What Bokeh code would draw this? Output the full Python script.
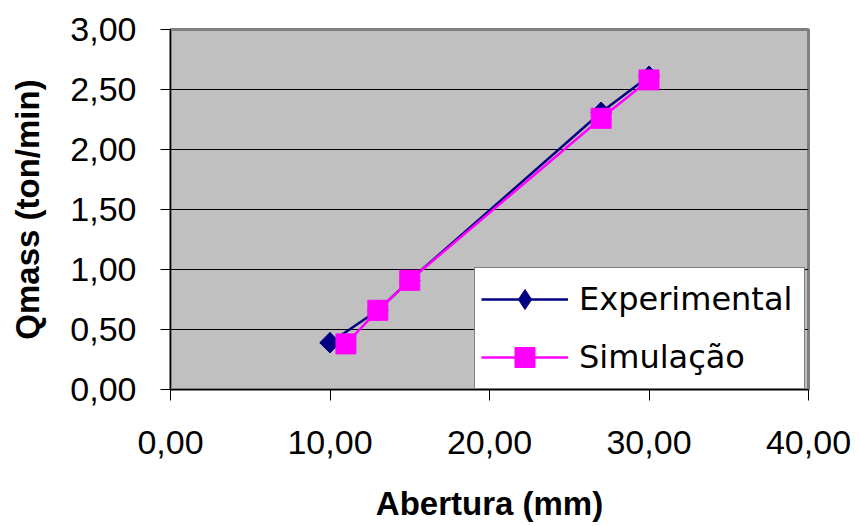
import numpy as np
from bokeh.plotting import figure
from bokeh.models import (Range1d, FixedTicker, CustomJSTickFormatter, Legend, LegendItem,
                          ColumnDataSource)
from bokeh.embed import file_html
from bokeh.resources import INLINE

# Data
exp_x = [10, 13, 15, 27, 30]
exp_y = [0.39, 0.66, 0.91, 2.31, 2.61]
sim_x = [11, 13, 15, 27, 30]
sim_y = [0.38, 0.66, 0.91, 2.26, 2.58]
x_ticks = [0, 10, 20, 30, 40]
y_ticks = [0, 0.5, 1.0, 1.5, 2.0, 2.5, 3.0]
x_title = "Abertura (mm)"
y_title = "Qmass (ton/min)"
series_names = ["Experimental", "Simulação"]

FONT = "Liberation Sans"

p = figure(width=859, height=526, output_backend="svg", toolbar_location=None,
           x_range=Range1d(0, 40), y_range=Range1d(0, 3),
           min_border_left=170, min_border_right=51, min_border_top=29, min_border_bottom=137)

p.background_fill_color = "#C0C0C0"
p.border_fill_color = "white"
p.outline_line_color = "#808080"
p.outline_line_width = 3

fmt = CustomJSTickFormatter(code="return tick.toFixed(2).replace('.', ',');")

p.xaxis.ticker = FixedTicker(ticks=x_ticks)
p.yaxis.ticker = FixedTicker(ticks=y_ticks)
for ax in (p.xaxis, p.yaxis):
    ax.formatter = fmt
    ax.minor_tick_line_color = None
    ax.major_tick_in = 0
    ax.axis_line_color = "black"
    ax.axis_line_width = 1
    ax.major_tick_line_color = "black"
    ax.major_label_text_font = FONT
    ax.major_label_text_font_size = "34px"
    ax.major_label_text_color = "black"
    ax.axis_label_text_font = FONT
    ax.axis_label_text_font_size = "33px"
    ax.axis_label_text_font_style = "bold"
    ax.axis_label_text_color = "black"

p.xaxis.major_tick_out = 11
p.xaxis.major_label_standoff = 30
p.xaxis.axis_label = x_title
p.xaxis.axis_label_standoff = 28

p.yaxis.major_tick_out = 10
p.yaxis.major_label_standoff = 24
p.yaxis.axis_label = y_title
p.yaxis.axis_label_standoff = 21

p.xgrid.grid_line_color = None
p.ygrid.grid_line_color = "black"
p.ygrid.grid_line_width = 1

src_e = ColumnDataSource(dict(x=exp_x, y=exp_y))
src_s = ColumnDataSource(dict(x=sim_x, y=sim_y))

le = p.line("x", "y", source=src_e, line_color="#000080", line_width=2.5)
md = p.scatter("x", "y", source=src_e, marker="diamond", size=20,
               fill_color="#000080", line_color="#000080")
me = p.scatter("x", "y", source=src_e, marker="square", angle=np.pi / 4, size=14.5,
               fill_color="#000080", line_color="#000080")
ls = p.line("x", "y", source=src_s, line_color="#FF00FF", line_width=2.5)
ms = p.scatter("x", "y", source=src_s, marker="square", size=20,
               fill_color="#FF00FF", line_color="#FF00FF")

legend = Legend(items=[LegendItem(label=series_names[0], renderers=[le, md]),
                       LegendItem(label=series_names[1], renderers=[ls, ms])],
                location=(304, 0), margin=0, padding=6, spacing=8,
                glyph_width=87, glyph_height=50, label_height=50, label_standoff=11,
                label_width=219,
                label_text_font="DejaVu Sans", label_text_font_size="32px",
                label_text_color="black",
                border_line_color="black", border_line_width=1,
                background_fill_color="white", background_fill_alpha=1)
p.add_layout(legend, "center")

open("out.html", "w").write(file_html(p, INLINE))
